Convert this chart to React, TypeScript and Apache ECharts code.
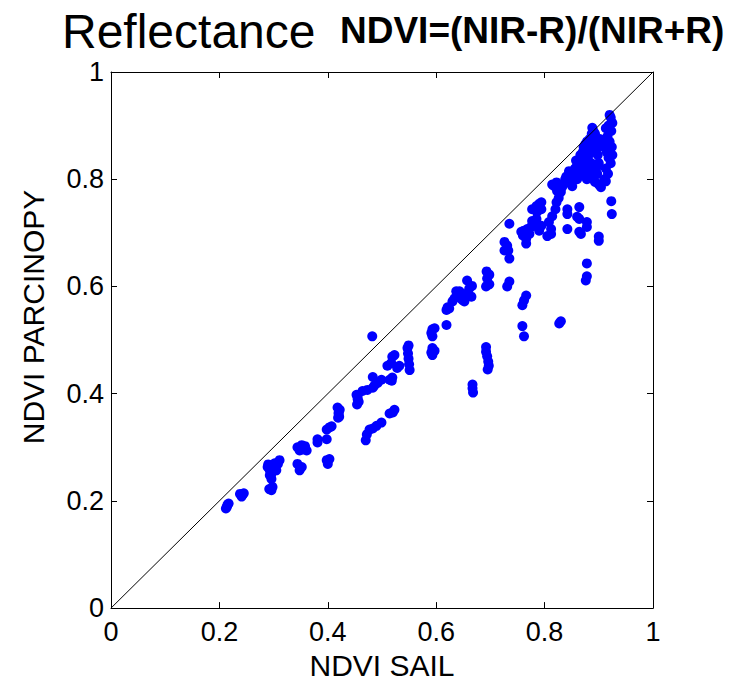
import React, { useEffect, useRef } from "react";
import * as echarts from "echarts";

// [NDVI SAIL, NDVI PARCINOPY]
const lowRange: [number, number][] = [
  [0.212, 0.186], [0.215, 0.193], [0.217, 0.195], [0.214, 0.189],
  [0.238, 0.213], [0.243, 0.212], [0.241, 0.208], [0.245, 0.214],
  [0.292, 0.222], [0.298, 0.226], [0.296, 0.22],
  [0.289, 0.263], [0.293, 0.257], [0.296, 0.25], [0.298, 0.26], [0.305, 0.257],
  [0.311, 0.276], [0.308, 0.269], [0.293, 0.248], [0.29, 0.268], [0.302, 0.27], [0.296, 0.241],
  [0.344, 0.3], [0.352, 0.304], [0.354, 0.296], [0.361, 0.294], [0.348, 0.294], [0.358, 0.302],
  [0.344, 0.269], [0.352, 0.263], [0.348, 0.257],
  [0.381, 0.315], [0.381, 0.309],
  [0.398, 0.333], [0.403, 0.337], [0.407, 0.339], [0.398, 0.315],
  [0.398, 0.276], [0.4, 0.269], [0.403, 0.278],
  [0.418, 0.374], [0.42, 0.365], [0.421, 0.357], [0.422, 0.37], [0.419, 0.355], [0.42, 0.362],
];

const midRange: [number, number][] = [
  [0.453, 0.398], [0.455, 0.39], [0.454, 0.38], [0.457, 0.385], [0.455, 0.395],
  [0.464, 0.405], [0.473, 0.407], [0.483, 0.411], [0.486, 0.415], [0.492, 0.42], [0.499, 0.426],
  [0.483, 0.431], [0.482, 0.507],
  [0.514, 0.426], [0.519, 0.43], [0.518, 0.424],
  [0.51, 0.452], [0.517, 0.457], [0.519, 0.469], [0.523, 0.472], [0.528, 0.448], [0.532, 0.452],
  [0.547, 0.485], [0.548, 0.475], [0.549, 0.465], [0.55, 0.455], [0.551, 0.444], [0.549, 0.49],
  [0.47, 0.313], [0.472, 0.324], [0.477, 0.333], [0.483, 0.335], [0.49, 0.34], [0.499, 0.346],
  [0.514, 0.363], [0.523, 0.37], [0.52, 0.365],
  [0.593, 0.52], [0.597, 0.522], [0.593, 0.507], [0.591, 0.513],
  [0.593, 0.485], [0.597, 0.48], [0.593, 0.472], [0.591, 0.477],
  [0.619, 0.528], [0.619, 0.556], [0.624, 0.559], [0.621, 0.561],
  [0.63, 0.572], [0.634, 0.578], [0.637, 0.591], [0.643, 0.591], [0.648, 0.583], [0.652, 0.572],
  [0.657, 0.587], [0.661, 0.596], [0.665, 0.581], [0.657, 0.611], [0.666, 0.601], [0.64, 0.585], [0.648, 0.575],
  [0.692, 0.6], [0.698, 0.604], [0.694, 0.615], [0.698, 0.622], [0.693, 0.628],
  [0.692, 0.487], [0.692, 0.478], [0.694, 0.47], [0.696, 0.46], [0.697, 0.452], [0.695, 0.445],
  [0.667, 0.417], [0.667, 0.41], [0.668, 0.402],
];

const highRange: [number, number][] = [
  [0.726, 0.667], [0.733, 0.667], [0.735, 0.652], [0.726, 0.683], [0.731, 0.676],
  [0.735, 0.609], [0.731, 0.6], [0.735, 0.717],
  [0.766, 0.583], [0.762, 0.574], [0.759, 0.565], [0.759, 0.526], [0.762, 0.507],
  [0.827, 0.531], [0.83, 0.535],
  [0.878, 0.643], [0.878, 0.619], [0.876, 0.611],
  [0.757, 0.702], [0.76, 0.695],
  [0.762, 0.704], [0.768, 0.707], [0.775, 0.711], [0.781, 0.713], [0.777, 0.722], [0.785, 0.726],
  [0.777, 0.744], [0.785, 0.75], [0.79, 0.754], [0.786, 0.739], [0.766, 0.689], [0.766, 0.68],
  [0.772, 0.698], [0.79, 0.704], [0.794, 0.713], [0.794, 0.757], [0.794, 0.744],
  [0.808, 0.72], [0.805, 0.694], [0.812, 0.698], [0.812, 0.707],
  [0.814, 0.731], [0.82, 0.744], [0.822, 0.757], [0.826, 0.765], [0.83, 0.776],
  [0.818, 0.787], [0.822, 0.794], [0.823, 0.778], [0.814, 0.79],
  [0.842, 0.744], [0.842, 0.735], [0.842, 0.707],
  [0.864, 0.748], [0.86, 0.73], [0.864, 0.726],
  [0.878, 0.72], [0.878, 0.711], [0.864, 0.702], [0.867, 0.698],
  [0.9, 0.693], [0.9, 0.685], [0.923, 0.759], [0.924, 0.735],
  [0.9, 0.79], [0.904, 0.785], [0.913, 0.796],
];

const topCluster: [number, number][] = [
  [0.84, 0.805], [0.845, 0.795], [0.851, 0.787], [0.848, 0.8], [0.851, 0.813], [0.856, 0.82],
  [0.86, 0.825], [0.864, 0.831], [0.855, 0.81], [0.86, 0.8], [0.865, 0.81], [0.87, 0.82],
  [0.835, 0.79], [0.832, 0.785], [0.838, 0.8], [0.845, 0.815], [0.858, 0.835], [0.866, 0.845],
  [0.87, 0.85], [0.872, 0.86], [0.875, 0.865], [0.878, 0.87], [0.883, 0.875], [0.887, 0.885],
  [0.89, 0.89], [0.888, 0.896], [0.893, 0.885], [0.895, 0.87], [0.89, 0.86], [0.885, 0.85],
  [0.88, 0.84], [0.875, 0.83], [0.88, 0.82], [0.885, 0.81], [0.89, 0.8], [0.895, 0.82],
  [0.9, 0.83], [0.898, 0.845], [0.9, 0.86], [0.902, 0.875], [0.897, 0.81], [0.893, 0.795],
  [0.87, 0.835], [0.875, 0.845], [0.882, 0.858], [0.886, 0.83], [0.878, 0.8], [0.872, 0.81],
  [0.92, 0.92], [0.922, 0.915], [0.925, 0.905], [0.918, 0.9], [0.923, 0.89], [0.916, 0.88],
  [0.92, 0.87], [0.924, 0.86], [0.915, 0.85], [0.918, 0.84], [0.922, 0.83], [0.913, 0.82],
  [0.917, 0.81], [0.91, 0.8], [0.925, 0.845], [0.912, 0.87], [0.91, 0.86], [0.913, 0.895],
];

const identityLine: [number, number][] = [[0, 0], [1, 1]];

const titleMain = "Reflectance";
const titleFormula = "NDVI=(NIR-R)/(NIR+R)";
const xName = "NDVI SAIL";
const yName = "NDVI PARCINOPY";

const FONT = "'Liberation Sans', Arial, sans-serif";

export default function App() {
  const ref = useRef<HTMLDivElement>(null);
  useEffect(() => {
    if (!ref.current) return;
    const chart = echarts.init(ref.current, undefined, { renderer: "svg" });
    const axisCommon = {
      type: "value" as const,
      min: 0,
      max: 1,
      interval: 0.2,
      splitLine: { show: false },
      axisLine: { show: true, onZero: false, lineStyle: { color: "#000", width: 1 } },
      axisTick: { show: true, inside: true, length: 6, lineStyle: { color: "#000" } },
    };
    chart.setOption({
      animation: false,
      backgroundColor: "#fff",
      grid: { left: 111, top: 72, width: 542, height: 540, containLabel: false },
      xAxis: [
        {
          ...axisCommon,
          position: "bottom",
          axisLabel: { color: "#000", fontSize: 27, fontFamily: FONT, margin: 10 },
          name: xName,
          nameLocation: "middle",
          nameGap: 40,
          nameTextStyle: { color: "#000", fontSize: 30, fontFamily: FONT },
        },
        { ...axisCommon, position: "top", axisLabel: { show: false } },
      ],
      yAxis: [
        {
          ...axisCommon,
          position: "left",
          axisLabel: { color: "#000", fontSize: 27, fontFamily: FONT, margin: 7 },
        },
        { ...axisCommon, position: "right", axisLabel: { show: false } },
      ],
      graphic: [
        {
          type: "text",
          left: 62,
          top: 7,
          style: { text: titleMain, fontSize: 48, fontFamily: FONT, fill: "#000" },
        },
        {
          type: "text",
          left: 340,
          top: 12,
          style: { text: titleFormula, fontSize: 37, fontWeight: "bold", fontFamily: FONT, fill: "#000" },
        },
        {
          type: "text",
          x: 33,
          y: 317,
          rotation: Math.PI / 2,
          style: {
            text: yName,
            fontSize: 30,
            fontFamily: FONT,
            fill: "#000",
            align: "center",
            verticalAlign: "middle",
          },
        },
      ],
      series: [
        {
          type: "scatter",
          xAxisIndex: 0,
          yAxisIndex: 0,
          symbol: "circle",
          symbolSize: 10,
          itemStyle: { color: "#0000ff", opacity: 1 },
          data: [...lowRange, ...midRange, ...highRange, ...topCluster],
          z: 2,
        },
        {
          type: "line",
          xAxisIndex: 0,
          yAxisIndex: 0,
          data: identityLine,
          symbol: "none",
          lineStyle: { color: "#000", width: 1 },
          z: 3,
        },
      ],
    });
    return () => chart.dispose();
  }, []);
  return (
    <div
      ref={ref}
      style={{ position: "absolute", left: 0, top: 0, width: 746, height: 685, background: "#fff" }}
    />
  );
}
